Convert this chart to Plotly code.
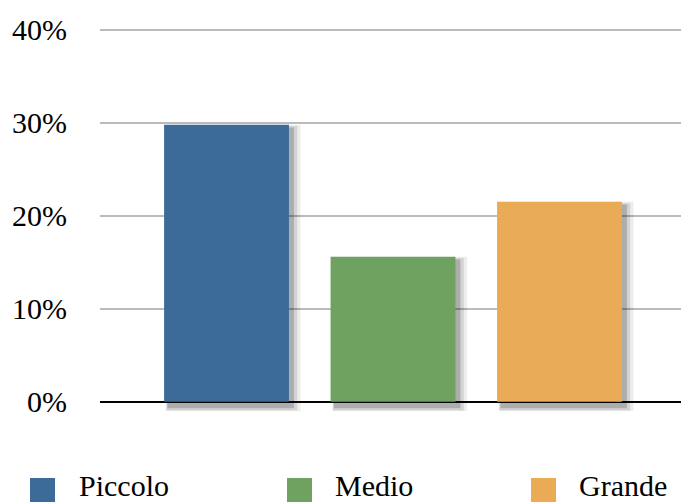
import plotly.graph_objects as go

categories = ["Piccolo", "Medio", "Grande"]
values = [29.8, 15.6, 21.5]
colors = ["#3D6B99", "#6FA260", "#EAAB57"]
tick_vals = [0, 10, 20, 30, 40]
tick_text = ["0%", "10%", "20%", "30%", "40%"]

W, H = 681, 504
L, R, T, B = 100, 0, 27, 93
pw, ph = W - L - R, H - T - B

def px_x(x):
    return (x - L) / pw

def px_y(y):
    return (H - B - y) / ph

fig = go.Figure()

# soft drop shadows to the lower right (derived from the same values)
for k, op in enumerate([0.07, 0.11, 0.18]):
    s = 2 - k
    fig.add_trace(go.Bar(
        x=categories, y=[v + 0.4 + 0.4 * s for v in values],
        base=[-0.7 - 0.25 * s] * len(values),
        width=0.76 + 0.025 * s, offset=-0.355 - 0.005 * s,
        marker=dict(color=f"rgba(0,0,0,{op})", line=dict(width=0)),
        showlegend=False, hoverinfo="skip"))

for c, v, col in zip(categories, values, colors):
    fig.add_trace(go.Bar(
        x=[c], y=[v], name=c, width=0.75, offset=-0.375,
        marker=dict(color=col, line=dict(width=0)), showlegend=False))

fig.update_layout(
    width=W, height=H,
    margin=dict(l=L, r=R, t=T, b=B, autoexpand=False),
    plot_bgcolor="white", paper_bgcolor="white",
    barmode="overlay",
    font=dict(family="Liberation Serif, Times New Roman, serif", size=30, color="black"),
    xaxis=dict(range=[-0.76, 2.73], showticklabels=False, showgrid=False,
               zeroline=False, showline=False, fixedrange=True, automargin=False),
    yaxis=dict(range=[-1, 40.3], tickvals=tick_vals, ticktext=tick_text,
               showgrid=True, gridcolor="#BBBBBB", gridwidth=2,
               zeroline=True, zerolinecolor="black", zerolinewidth=1.5,
               showline=False, ticks="", ticklabelstandoff=32, automargin=False,
               tickfont=dict(size=30)),
)

legend_pos = [(30, 78), (287, 334), (531, 578)]
for (sx, tx), c, col in zip(legend_pos, categories, colors):
    fig.add_shape(type="rect", xref="paper", yref="paper",
                  x0=px_x(sx), x1=px_x(sx + 25), y0=px_y(502), y1=px_y(478),
                  fillcolor=col, line=dict(width=0))
    fig.add_annotation(xref="paper", yref="paper", x=px_x(tx), y=px_y(503),
                       xanchor="left", yanchor="bottom", text=c, showarrow=False,
                       font=dict(size=30), borderpad=0)

fig.write_html("out.html", config={"displayModeBar": False},
               post_script="document.body.style.margin='0';document.body.style.overflow='hidden';")
